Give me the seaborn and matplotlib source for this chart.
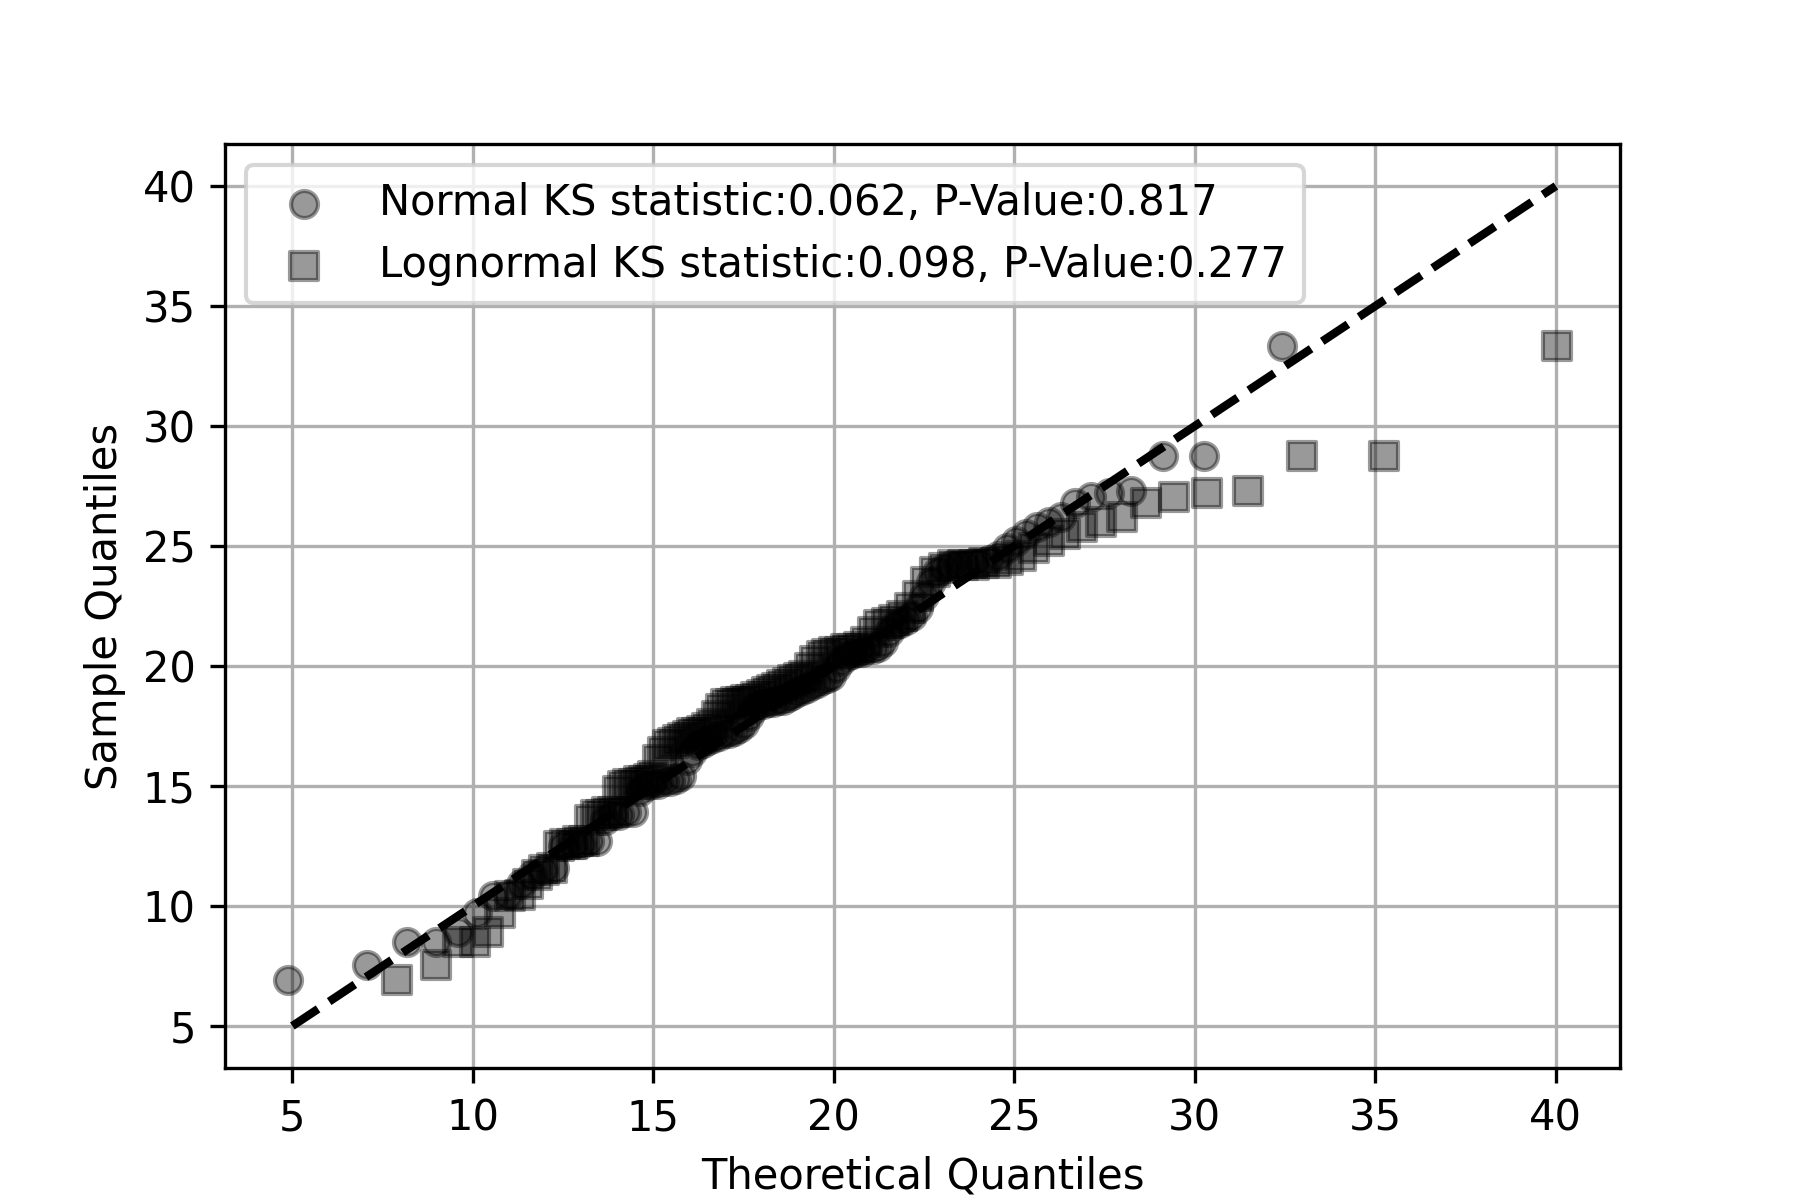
import seaborn as sns
import pandas as pd
import matplotlib.pyplot as plt

# sorted sample values
sample_q = [6.9, 7.55, 8.5, 8.5, 8.9, 9.7, 10.4, 10.45, 10.9, 11.3,
            11.5, 11.6, 12.5, 12.6, 12.6, 12.7, 12.7, 13.6, 13.8, 13.8,
            13.9, 13.9, 14.8, 15.0, 15.1, 15.1, 15.2, 15.2, 15.3, 15.4,
            16.1, 16.4, 16.7, 16.8, 16.9, 17.0, 17.1, 17.2, 17.2, 17.3,
            17.4, 17.6, 17.9, 18.2, 18.4, 18.4, 18.5, 18.5, 18.6, 18.6,
            18.7, 18.8, 18.9, 19.0, 19.1, 19.2, 19.3, 19.4, 19.5, 19.6,
            19.9, 20.2, 20.4, 20.5, 20.6, 20.6, 20.7, 20.7, 20.8, 21.0,
            21.4, 21.7, 21.8, 21.9, 22.1, 22.4, 22.9, 23.5, 23.9, 24.1,
            24.2, 24.2, 24.2, 24.3, 24.3, 24.4, 24.6, 24.9, 25.2, 25.5,
            25.8, 26.0, 26.2, 26.8, 27.05, 27.2, 27.3, 28.75, 28.75, 33.35]

# theoretical quantiles, normal fit
normal_q = [4.89, 7.06, 8.18, 8.97, 9.60, 10.12, 10.57, 10.96, 11.32, 11.65,
            11.95, 12.24, 12.51, 12.76, 13.00, 13.23, 13.45, 13.66, 13.87, 14.06,
            14.25, 14.44, 14.62, 14.79, 14.97, 15.13, 15.30, 15.46, 15.62, 15.77,
            15.93, 16.08, 16.23, 16.38, 16.52, 16.66, 16.81, 16.95, 17.09, 17.23,
            17.37, 17.50, 17.64, 17.77, 17.91, 18.05, 18.18, 18.31, 18.45, 18.58,
            18.72, 18.85, 18.99, 19.12, 19.25, 19.39, 19.53, 19.66, 19.80, 19.93,
            20.07, 20.21, 20.35, 20.49, 20.64, 20.78, 20.92, 21.07, 21.22, 21.37,
            21.53, 21.68, 21.84, 22.00, 22.17, 22.33, 22.51, 22.68, 22.86, 23.05,
            23.24, 23.43, 23.64, 23.85, 24.06, 24.30, 24.54, 24.79, 25.05, 25.33,
            25.63, 25.95, 26.30, 26.68, 27.12, 27.62, 28.22, 29.12, 30.24, 32.41]

# theoretical quantiles, lognormal fit
lognormal_q = [7.90, 8.98, 9.59, 10.05, 10.42, 10.75, 11.04, 11.30, 11.54, 11.77,
               11.98, 12.18, 12.38, 12.56, 12.74, 12.92, 13.08, 13.24, 13.41, 13.56,
               13.72, 13.87, 14.02, 14.16, 14.31, 14.45, 14.59, 14.73, 14.87, 15.00,
               15.14, 15.28, 15.41, 15.55, 15.68, 15.81, 15.95, 16.08, 16.22, 16.35,
               16.49, 16.62, 16.75, 16.88, 17.02, 17.16, 17.29, 17.43, 17.57, 17.71,
               17.85, 18.00, 18.14, 18.28, 18.42, 18.57, 18.72, 18.87, 19.03, 19.18,
               19.34, 19.49, 19.66, 19.82, 19.99, 20.16, 20.33, 20.51, 20.69, 20.88,
               21.07, 21.26, 21.47, 21.67, 21.88, 22.10, 22.32, 22.55, 22.80, 23.05,
               23.31, 23.58, 23.87, 24.16, 24.48, 24.81, 25.17, 25.54, 25.95, 26.39,
               26.87, 27.39, 27.99, 28.65, 29.42, 30.33, 31.46, 32.96, 35.23, 40.02]

ref_line = [5, 40]

normal_label = "Normal KS statistic:0.062, P-Value:0.817"
lognormal_label = "Lognormal KS statistic:0.098, P-Value:0.277"

df = pd.DataFrame({"sample": sample_q, "normal": normal_q, "lognormal": lognormal_q})

fig, ax = plt.subplots(figsize=(6, 4), dpi=300)

sns.scatterplot(data=df, x="normal", y="sample", marker="o", color="k",
                alpha=0.4, edgecolor="k", linewidth=1, s=42,
                label=normal_label, ax=ax)
sns.scatterplot(data=df, x="lognormal", y="sample", marker="s", color="k",
                alpha=0.4, edgecolor="k", linewidth=1, s=42,
                label=lognormal_label, ax=ax)
sns.lineplot(x=ref_line, y=ref_line, color="k", linestyle="--", linewidth=2,
             legend=False, ax=ax, zorder=3)

ax.grid(True)
ax.set_axisbelow(True)
ax.set_xlabel("Theoretical Quantiles")
ax.set_ylabel("Sample Quantiles")
ax.legend(loc="upper left")

plt.savefig("out.png", dpi=300)
